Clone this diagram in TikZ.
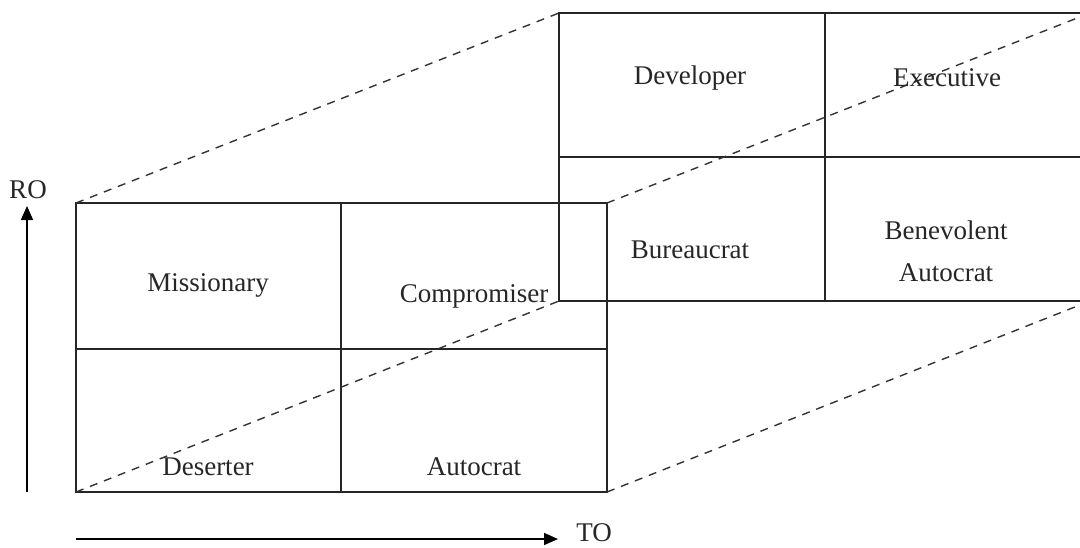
\documentclass[tikz,border=0pt]{standalone}
\usepackage{fontspec}
\setmainfont{Liberation Serif}
\usetikzlibrary{arrows.meta}
\begin{document}
\begin{tikzpicture}[x=1pt,y=-1pt,
  frame/.style={line width=1.7pt,draw=black!85},
  grid/.style={line width=1.4pt,draw=black!85},
  link/.style={line width=1.4pt,dash pattern=on 8pt off 7pt,draw=black!80},
  axis/.style={line width=1.5pt,-{Triangle[length=14pt,width=12pt]}},
  cell/.style={font=\fontsize{27}{36}\selectfont,text=black!85,align=center},
  axislabel/.style={font=\fontsize{27}{30}\selectfont,text=black!85}]
\useasboundingbox (0,0) rectangle (1080,547);
\clip (0,0) rectangle (1080,547);
% front grid corners
\coordinate (fTL) at (76,203);
\coordinate (fTR) at (607,203);
\coordinate (fBL) at (76,492);
\coordinate (fBR) at (607,492);
% back grid corners (shifted copy)
\coordinate (bTL) at (559,13);
\coordinate (bTR) at (1090,13);
\coordinate (bBL) at (559,301);
\coordinate (bBR) at (1090,301);
% back grid
\draw[frame] (bTL) rectangle (bBR);
\draw[grid] (559,157) -- (1090,157);
\draw[grid] (825,13) -- (825,301);
% front grid
\draw[frame] (fTL) rectangle (fBR);
\draw[grid] (76,349) -- (607,349);
\draw[grid] (341,203) -- (341,492);
% perspective links
\draw[link] (fTL) -- (bTL);
\draw[link] (fTR) -- (bTR);
\draw[link] (fBL) -- (bBL);
\draw[link] (fBR) -- (bBR);
% cell labels
\node[cell] (missionary) at (208,285) {Missionary};
\node[cell] (compromiser) at (474,296) {Compromiser};
\node[cell] (deserter) at (208,467) {Deserter};
\node[cell] (autocrat) at (474,467) {Autocrat};
\node[cell] (developer) at (690,78) {Developer};
\node[cell] (executive) at (947,78) {Executive};
\node[cell] (bureaucrat) at (690,250) {Bureaucrat};
\node[cell] (benevolent) at (946,251) {Benevolent\\[6pt]Autocrat};
% axes
\coordinate (roFoot) at (27,492);
\coordinate (roTip) at (27,206);
\coordinate (toFoot) at (76,539);
\coordinate (toTip) at (558,539);
\draw[axis] (roFoot) -- (roTip);
\draw[axis] (toFoot) -- (toTip);
\node[axislabel] (ro) at (28,190) {RO};
\node[axislabel] (to) at (594,533) {TO};
\end{tikzpicture}
\end{document}
